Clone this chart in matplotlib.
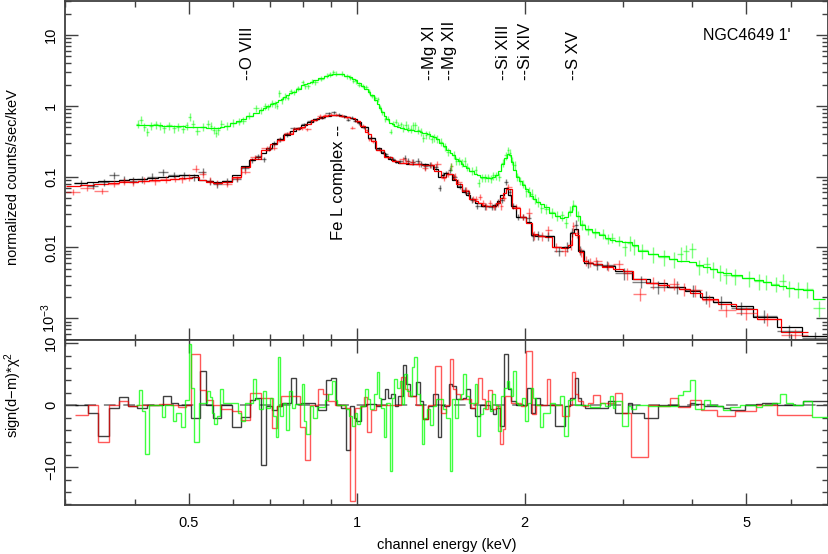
import numpy as np
import matplotlib
matplotlib.use("Agg")
import matplotlib.pyplot as plt
from matplotlib.ticker import FixedLocator, NullFormatter, LogLocator

plt.rcParams["font.family"] = ["Liberation Sans", "DejaVu Sans"]
plt.rcParams["mathtext.fontset"] = "custom"
plt.rcParams["mathtext.rm"] = "Liberation Sans"
plt.rcParams["mathtext.it"] = "Liberation Sans:italic"
plt.rcParams["font.size"] = 10.5

# ---- spectrum: black (MOS1) ----
e_black = [0.320, 0.337, 0.352, 0.368, 0.383, 0.397, 0.412, 0.430, 0.450, 0.470,
           0.490, 0.510, 0.530, 0.545, 0.562, 0.585, 0.610, 0.632, 0.650, 0.665,
           0.681, 0.697, 0.712, 0.728, 0.750, 0.772, 0.788, 0.804, 0.826, 0.846,
           0.866, 0.891, 0.909, 0.928, 0.948, 0.965, 0.980, 0.993, 1.009, 1.030,
           1.063, 1.096, 1.115, 1.130, 1.146, 1.162, 1.178, 1.198, 1.220, 1.236,
           1.262, 1.288, 1.306, 1.328, 1.356, 1.385, 1.409, 1.426, 1.448, 1.471,
           1.495, 1.530, 1.563, 1.582, 1.612, 1.646, 1.698, 1.745, 1.768, 1.795,
           1.825, 1.855, 1.880, 1.910, 1.945, 1.990, 2.035, 2.070, 2.110, 2.200,
           2.310, 2.385, 2.435, 2.475, 2.510, 2.600, 2.700, 2.810, 3.010, 3.240,
           3.470, 3.750, 4.010, 4.230, 4.500, 4.890, 5.380, 5.970, 6.640]
m_black = [0.082, 0.084, 0.086, 0.088, 0.090, 0.092, 0.094, 0.096, 0.099, 0.102,
           0.105, 0.107, 0.090, 0.086, 0.085, 0.086, 0.105, 0.140, 0.170, 0.190,
           0.215, 0.250, 0.300, 0.340, 0.390, 0.440, 0.480, 0.540, 0.600, 0.650,
           0.690, 0.730, 0.750, 0.745, 0.720, 0.700, 0.680, 0.650, 0.600, 0.500,
           0.350, 0.250, 0.215, 0.195, 0.180, 0.170, 0.163, 0.158, 0.155, 0.153,
           0.151, 0.150, 0.150, 0.149, 0.146, 0.128, 0.100, 0.104, 0.112, 0.108,
           0.090, 0.072, 0.060, 0.055, 0.048, 0.042, 0.038, 0.038, 0.040, 0.045,
           0.055, 0.070, 0.055, 0.038, 0.027, 0.027, 0.023, 0.0150, 0.0144, 0.0144,
           0.0101, 0.0103, 0.0160, 0.0180, 0.0088, 0.0061, 0.0058, 0.0054, 0.0047, 0.0036,
           0.0032, 0.0028, 0.0024, 0.0020, 0.0017, 0.0015, 0.00103, 0.00075, 0.00056]
d_black = [0.082, 0.075, 0.083, 0.105, 0.091, 0.088, 0.092, 0.100, 0.115, 0.106,
           0.105, 0.098, 0.118, 0.086, 0.078, 0.086, 0.092, 0.132, 0.172, 0.196,
           0.175, 0.248, 0.292, 0.338, 0.395, 0.480, 0.484, 0.545, 0.606, 0.648,
           0.682, 0.790, 0.810, 0.745, 0.712, 0.640, 0.676, 0.620, 0.565, 0.498,
           0.352, 0.249, 0.220, 0.208, 0.186, 0.180, 0.162, 0.165, 0.185, 0.168,
           0.160, 0.165, 0.152, 0.140, 0.146, 0.136, 0.070, 0.105, 0.111, 0.125,
           0.100, 0.075, 0.064, 0.059, 0.047, 0.039, 0.038, 0.037, 0.038, 0.044,
           0.047, 0.085, 0.060, 0.039, 0.027, 0.027, 0.026, 0.0145, 0.0150, 0.0144,
           0.0088, 0.0103, 0.0165, 0.0210, 0.0092, 0.0060, 0.0057, 0.0056, 0.0043, 0.0033,
           0.0028, 0.0028, 0.0025, 0.0020, 0.0017, 0.0014, 0.00108, 0.00066, 0.00053]

# ---- spectrum: red (MOS2) ----
e_red = [0.310, 0.328, 0.350, 0.368, 0.383, 0.397, 0.415, 0.435, 0.455, 0.472,
         0.487, 0.500, 0.515, 0.530, 0.545, 0.562, 0.585, 0.610, 0.632, 0.658,
         0.690, 0.711, 0.726, 0.755, 0.785, 0.799, 0.816, 0.838, 0.861, 0.879,
         0.901, 0.920, 0.940, 0.962, 0.982, 1.003, 1.025, 1.045, 1.052, 1.070,
         1.100, 1.140, 1.170, 1.210, 1.228, 1.255, 1.295, 1.328, 1.360, 1.395,
         1.433, 1.458, 1.479, 1.500, 1.520, 1.570, 1.617, 1.640, 1.663, 1.686,
         1.708, 1.732, 1.762, 1.793, 1.818, 1.837, 1.870, 1.930, 1.990, 2.038,
         2.080, 2.150, 2.205, 2.280, 2.365, 2.418, 2.447, 2.480, 2.525, 2.575,
         2.625, 2.690, 2.820, 2.950, 3.050, 3.220, 3.400, 3.550, 3.700, 3.870,
         4.050, 4.280, 4.600, 5.000, 5.450, 6.100]
m_red = [0.074, 0.076, 0.078, 0.081, 0.083, 0.085, 0.087, 0.089, 0.091, 0.093,
         0.095, 0.097, 0.098, 0.090, 0.084, 0.082, 0.083, 0.100, 0.135, 0.175,
         0.235, 0.290, 0.330, 0.395, 0.465, 0.510, 0.560, 0.630, 0.680, 0.710,
         0.735, 0.740, 0.730, 0.700, 0.665, 0.620, 0.525, 0.430, 0.400, 0.320,
         0.240, 0.188, 0.168, 0.157, 0.155, 0.152, 0.150, 0.148, 0.145, 0.122,
         0.100, 0.110, 0.108, 0.094, 0.080, 0.062, 0.049, 0.045, 0.042, 0.040,
         0.039, 0.038, 0.038, 0.042, 0.050, 0.058, 0.066, 0.036, 0.027, 0.022,
         0.0155, 0.0143, 0.0140, 0.0100, 0.0098, 0.0110, 0.0160, 0.0150, 0.0085, 0.0065,
         0.0061, 0.0058, 0.0053, 0.0049, 0.0046, 0.0036, 0.0032, 0.0030, 0.0028, 0.0026,
         0.0023, 0.0019, 0.0016, 0.00135, 0.00098, 0.00065]
d_red = [0.061, 0.070, 0.063, 0.080, 0.086, 0.084, 0.088, 0.086, 0.092, 0.093,
         0.092, 0.097, 0.130, 0.108, 0.088, 0.082, 0.080, 0.095, 0.118, 0.190,
         0.250, 0.255, 0.330, 0.420, 0.480, 0.480, 0.470, 0.630, 0.720, 0.740,
         0.750, 0.745, 0.730, 0.690, 0.490, 0.610, 0.520, 0.450, 0.340, 0.315,
         0.238, 0.188, 0.168, 0.175, 0.165, 0.160, 0.150, 0.132, 0.145, 0.150,
         0.096, 0.110, 0.140, 0.102, 0.085, 0.064, 0.048, 0.048, 0.052, 0.042,
         0.038, 0.043, 0.037, 0.042, 0.038, 0.050, 0.072, 0.037, 0.027, 0.031,
         0.0148, 0.0143, 0.0175, 0.0100, 0.0090, 0.0110, 0.0200, 0.0160, 0.0086, 0.0065,
         0.0062, 0.0064, 0.0054, 0.0058, 0.0043, 0.0022, 0.0032, 0.0030, 0.0031, 0.0026,
         0.0025, 0.0018, 0.0013, 0.0012, 0.00098, 0.00058]

# ---- spectrum: green (pn) ----
e_green = [0.405, 0.411, 0.416, 0.421, 0.428, 0.436, 0.444, 0.451, 0.461, 0.471,
           0.479, 0.488, 0.496, 0.502, 0.508, 0.517, 0.530, 0.542, 0.548, 0.554,
           0.559, 0.565, 0.572, 0.585, 0.600, 0.616, 0.626, 0.642, 0.660, 0.674,
           0.684, 0.693, 0.704, 0.713, 0.720, 0.727, 0.734, 0.743, 0.752, 0.762,
           0.771, 0.786, 0.801, 0.809, 0.819, 0.831, 0.842, 0.863, 0.884, 0.896,
           0.908, 0.919, 0.940, 0.962, 0.973, 0.987, 0.998, 1.009, 1.025, 1.041,
           1.052, 1.065, 1.080, 1.091, 1.100, 1.112, 1.124, 1.138, 1.152, 1.162,
           1.175, 1.188, 1.200, 1.212, 1.224, 1.237, 1.250, 1.262, 1.275, 1.289,
           1.304, 1.317, 1.330, 1.346, 1.363, 1.378, 1.395, 1.416, 1.438, 1.458,
           1.477, 1.492, 1.510, 1.528, 1.545, 1.562, 1.578, 1.608, 1.636, 1.656,
           1.676, 1.696, 1.720, 1.742, 1.759, 1.778, 1.802, 1.828, 1.849, 1.866,
           1.883, 1.901, 1.919, 1.939, 1.963, 1.989, 2.013, 2.037, 2.062, 2.088,
           2.114, 2.141, 2.188, 2.244, 2.290, 2.332, 2.370, 2.410, 2.447, 2.490,
           2.540, 2.600, 2.675, 2.760, 2.817, 2.865, 2.950, 3.025, 3.085, 3.140,
           3.250, 3.400, 3.550, 3.700, 3.810, 3.900, 4.000, 4.110, 4.240, 4.360,
           4.480, 4.600, 4.770, 5.050, 5.260, 5.430, 5.640, 5.810, 5.970, 6.180,
           6.430, 6.750]
m_green = [0.540, 0.538, 0.536, 0.535, 0.533, 0.531, 0.529, 0.527, 0.524, 0.521,
           0.518, 0.514, 0.510, 0.508, 0.505, 0.501, 0.496, 0.492, 0.490, 0.489,
           0.488, 0.488, 0.495, 0.520, 0.570, 0.620, 0.660, 0.720, 0.800, 0.870,
           0.920, 0.980, 1.050, 1.100, 1.150, 1.200, 1.260, 1.330, 1.420, 1.500,
           1.580, 1.750, 1.950, 2.020, 2.100, 2.200, 2.280, 2.450, 2.620, 2.700,
           2.780, 2.820, 2.850, 2.680, 2.580, 2.420, 2.280, 2.120, 1.920, 1.720,
           1.580, 1.400, 1.200, 1.050, 0.930, 0.820, 0.730, 0.650, 0.580, 0.550,
           0.520, 0.500, 0.490, 0.480, 0.470, 0.460, 0.455, 0.450, 0.445, 0.440,
           0.430, 0.420, 0.410, 0.400, 0.380, 0.360, 0.335, 0.300, 0.270, 0.240,
           0.215, 0.200, 0.180, 0.165, 0.150, 0.140, 0.132, 0.120, 0.110, 0.104,
           0.100, 0.098, 0.096, 0.096, 0.098, 0.104, 0.120, 0.150, 0.185, 0.210,
           0.200, 0.160, 0.125, 0.100, 0.087, 0.076, 0.068, 0.060, 0.053, 0.048,
           0.044, 0.041, 0.037, 0.031, 0.028, 0.0265, 0.0270, 0.0320, 0.0380, 0.0280,
           0.0210, 0.0180, 0.0165, 0.0150, 0.0135, 0.0128, 0.0122, 0.0120, 0.0118, 0.0110,
           0.0090, 0.0082, 0.0075, 0.0068, 0.0065, 0.0064, 0.0063, 0.0056, 0.0053, 0.0050,
           0.0045, 0.0043, 0.0041, 0.0037, 0.0035, 0.0033, 0.0030, 0.0029, 0.0027, 0.0026,
           0.0025, 0.0019]
d_green = [0.560, 0.630, 0.500, 0.430, 0.520, 0.545, 0.520, 0.480, 0.530, 0.480,
           0.500, 0.470, 0.530, 0.700, 0.560, 0.440, 0.505, 0.560, 0.520, 0.460,
           0.420, 0.450, 0.550, 0.525, 0.575, 0.600, 0.620, 0.730, 0.920, 0.860,
           0.990, 0.970, 1.080, 1.050, 1.000, 1.500, 1.200, 1.350, 1.300, 1.600,
           1.560, 1.770, 2.150, 1.900, 1.880, 2.190, 2.150, 2.430, 2.680, 2.780,
           3.000, 2.860, 2.850, 2.640, 2.500, 2.270, 2.220, 1.980, 1.910, 1.850,
           1.610, 1.380, 1.280, 1.250, 0.960, 0.810, 0.650, 0.660, 0.430, 0.560,
           0.600, 0.540, 0.550, 0.485, 0.540, 0.490, 0.475, 0.530, 0.530, 0.460,
           0.435, 0.350, 0.390, 0.395, 0.345, 0.358, 0.345, 0.310, 0.265, 0.225,
           0.140, 0.205, 0.167, 0.170, 0.158, 0.165, 0.136, 0.122, 0.125, 0.082,
           0.096, 0.097, 0.098, 0.093, 0.104, 0.104, 0.100, 0.158, 0.200, 0.235,
           0.215, 0.168, 0.145, 0.101, 0.087, 0.079, 0.062, 0.061, 0.057, 0.049,
           0.044, 0.036, 0.035, 0.0315, 0.0282, 0.0285, 0.0225, 0.0330, 0.0400, 0.0280,
           0.0212, 0.0178, 0.0162, 0.0155, 0.0133, 0.0138, 0.0125, 0.0100, 0.0117, 0.0105,
           0.0091, 0.0081, 0.0074, 0.0068, 0.0082, 0.0088, 0.0094, 0.0054, 0.0058, 0.0050,
           0.0045, 0.0041, 0.0040, 0.0037, 0.0034, 0.0033, 0.0031, 0.0034, 0.0027, 0.0026,
           0.0026, 0.0014]

# relative 1-sigma error per energy band
err_band_edges = [0.3, 0.6, 0.75, 1.2, 2.0, 3.0, 7.1]
err_frac_mos = [0.11, 0.08, 0.05, 0.10, 0.15, 0.20]
err_frac_pn = [0.13, 0.11, 0.08, 0.13, 0.16, 0.25]

# ---- residuals sign(d-m)*chi^2 (bin upper edges + values) ----
res_black_lo = 0.313
res_black_hi = [0.330, 0.344, 0.360, 0.375, 0.389, 0.404, 0.420, 0.450, 0.465, 0.478,
                0.505, 0.523, 0.538, 0.552, 0.572, 0.598, 0.621, 0.643, 0.656, 0.673,
                0.689, 0.706, 0.719, 0.736, 0.764, 0.780, 0.796, 0.812, 0.841, 0.852,
                0.882, 0.901, 0.917, 0.939, 0.958, 0.972, 0.988, 0.999, 1.019, 1.041,
                1.085, 1.107, 1.123, 1.138, 1.154, 1.170, 1.186, 1.211, 1.228, 1.245,
                1.279, 1.297, 1.315, 1.342, 1.370, 1.399, 1.418, 1.434, 1.462, 1.480,
                1.510, 1.550, 1.570, 1.595, 1.630, 1.663, 1.733, 1.756, 1.780, 1.810,
                1.840, 1.870, 1.890, 1.930, 1.960, 2.020, 2.050, 2.090, 2.130, 2.270,
                2.360, 2.410, 2.460, 2.490, 2.530, 2.570, 2.670, 2.730, 2.820, 2.910,
                3.070, 3.120, 3.280, 3.470, 3.640, 3.770, 3.960, 4.040, 4.190, 4.300,
                4.540, 4.670, 4.970, 5.210, 5.320, 5.660, 6.060, 6.310, 7.000]
res_black = [0.0, -1.2, -4.9, -0.4, 1.3, -0.2, -0.5, 0.0, 1.5, 0.4,
             0.0, -2.0, 5.5, 0.0, -2.1, 0.0, -3.5, -1.9, 0.9, 1.1,
             -9.6, -0.2, -0.8, -0.1, 0.4, 4.4, 0.2, 0.4, 0.4, -0.2,
             -0.8, 4.0, 4.4, 0.0, -0.4, -7.3, -0.1, -2.0, -2.5, -0.1,
             0.2, -0.1, 1.0, 2.6, 1.2, 1.8, -0.1, 1.5, 6.5, 3.4,
             1.5, 3.7, 0.7, -2.2, -0.1, 1.8, -5.2, 0.1, -0.1, 3.4,
             3.1, 1.0, 1.2, 2.6, -0.4, -1.7, 0.1, -0.6, -1.4, -0.4,
             -3.3, 8.2, 2.6, 0.7, 0.1, 0.0, 2.8, -1.2, 1.1, 0.0,
             -3.3, -0.1, 1.1, 4.4, 1.1, 0.0, -0.4, -0.5, -0.4, 0.7,
             -1.3, 0.3, -1.2, -2.1, 0.1, 0.0, -0.1, 0.3, 0.2, -0.1,
             -0.1, -0.5, -0.8, 0.0, 0.2, 0.3, 0.0, 0.0, 0.7]

res_red_lo = 0.313
res_red_hi = [0.330, 0.344, 0.360, 0.375, 0.389, 0.404, 0.443, 0.465, 0.478, 0.495,
              0.505, 0.523, 0.538, 0.552, 0.572, 0.598, 0.621, 0.643, 0.673, 0.704,
              0.719, 0.733, 0.791, 0.807, 0.825, 0.852, 0.870, 0.888, 0.913, 0.952,
              0.972, 0.992, 1.019, 1.032, 1.045, 1.059, 1.085, 1.200, 1.220, 1.236,
              1.279, 1.315, 1.342, 1.380, 1.418, 1.448, 1.469, 1.489, 1.510, 1.531,
              1.606, 1.629, 1.652, 1.675, 1.697, 1.720, 1.745, 1.780, 1.806, 1.830,
              1.844, 1.895, 1.970, 2.016, 2.060, 2.100, 2.190, 2.220, 2.330, 2.400,
              2.430, 2.463, 2.497, 2.550, 2.600, 2.650, 2.730, 2.906, 2.990, 3.110,
              3.330, 3.470, 3.640, 3.770, 3.960, 4.150, 4.420, 4.770, 5.210, 5.660,
              6.560]
res_red = [-1.6, 0.0, -5.9, 0.0, 0.7, -0.2, 0.0, 0.2, 0.0, -0.3,
           0.0, 8.3, 2.4, 0.8, 0.0, -0.6, -0.9, -2.4, 1.9, 1.1,
           -3.7, -0.2, 1.5, -3.5, -8.8, 0.0, 2.6, 1.8, 0.7, 0.0,
           -0.4, -15.4, -0.4, -0.1, 1.3, -4.3, -0.8, 0.0, 4.5, 2.6,
           1.5, 0.1, -2.2, 0.1, 6.3, -1.2, 0.0, 7.4, 2.6, 1.8,
           1.0, -0.4, 0.4, 4.4, 1.0, -0.6, 2.4, -0.6, -0.1, -6.3,
           -3.9, 1.4, 0.3, -0.1, 8.8, -1.4, 0.0, 4.2, 0.0, -1.7,
           0.0, 5.3, 1.8, 0.7, -0.1, 0.4, 1.6, 0.3, 2.0, -1.3,
           -8.4, 0.0, -0.1, 1.1, -0.3, 0.9, -0.8, -1.7, -1.0, 0.0,
           -1.55]

res_green_lo = 0.403
res_green_hi = [0.408, 0.413, 0.417, 0.424, 0.448, 0.454, 0.468, 0.474, 0.484, 0.492,
                0.500, 0.505, 0.512, 0.522, 0.539, 0.545, 0.551, 0.556, 0.562, 0.568,
                0.576, 0.612, 0.621, 0.630, 0.652, 0.659, 0.668, 0.680, 0.687, 0.699,
                0.709, 0.717, 0.723, 0.730, 0.738, 0.748, 0.757, 0.767, 0.775, 0.797,
                0.805, 0.813, 0.825, 0.836, 0.848, 0.878, 0.890, 0.902, 0.915, 0.923,
                0.958, 0.967, 0.980, 0.994, 1.003, 1.015, 1.036, 1.046, 1.058, 1.073,
                1.088, 1.095, 1.106, 1.118, 1.130, 1.146, 1.157, 1.168, 1.181, 1.194,
                1.206, 1.217, 1.230, 1.244, 1.256, 1.268, 1.281, 1.297, 1.310, 1.323,
                1.337, 1.356, 1.371, 1.385, 1.404, 1.428, 1.448, 1.469, 1.485, 1.499,
                1.520, 1.537, 1.553, 1.570, 1.587, 1.629, 1.644, 1.667, 1.685, 1.708,
                1.733, 1.751, 1.767, 1.790, 1.815, 1.840, 1.858, 1.874, 1.892, 1.910,
                1.928, 1.950, 1.976, 2.002, 2.025, 2.050, 2.075, 2.101, 2.128, 2.155,
                2.221, 2.267, 2.314, 2.350, 2.390, 2.430, 2.463, 2.620, 2.730, 2.788,
                2.847, 2.880, 2.906, 2.990, 3.060, 3.110, 3.170, 3.330, 3.770, 3.850,
                3.960, 4.040, 4.190, 4.300, 4.420, 4.540, 4.670, 4.870, 5.210, 5.320,
                5.550, 5.740, 5.880, 6.060, 6.310, 6.560, 7.000]
res_green = [0.0, 2.4, -1.0, -7.9, 0.0, -1.9, 0.0, -2.6, -1.3, -3.5,
             0.8, 9.9, 2.8, -5.9, 0.4, 2.3, 1.3, -1.2, -3.1, -1.7,
             2.6, 0.3, -1.2, -2.5, 0.3, 4.2, 1.0, -0.6, 2.3, -0.4,
             1.2, -1.7, -5.2, 7.8, -1.7, 0.4, -4.0, 2.3, -0.4, 0.2,
             3.4, -2.5, -4.7, -0.1, -2.0, -0.3, 0.8, 1.8, 3.9, 0.8,
             0.0, -0.6, -1.7, -3.3, -1.2, -3.0, -0.1, 2.6, 1.0, -0.6,
             1.8, 5.3, 1.2, -0.4, -5.2, 0.4, -10.6, 1.2, 4.2, 2.8,
             3.9, 0.2, 5.0, 2.3, 1.5, 6.1, 7.7, 1.8, 0.2, -6.2,
             -2.0, -0.6, -3.2, -0.1, 1.0, 1.0, -0.6, -2.0, -10.6, 1.0,
             -2.0, 1.0, 1.8, 5.0, 1.5, 0.3, 3.4, -4.9, -1.5, -0.4,
             0.7, -0.9, 1.8, 0.1, -4.1, 1.5, 2.8, 3.9, 2.8, 1.5,
             5.5, 0.4, 0.1, 1.2, -2.5, 0.3, 2.8, 1.1, 0.0, -3.5,
             -1.2, 0.4, 0.1, 1.5, -4.9, 0.8, 1.0, 0.0, -0.3, 0.4,
             -0.1, 1.4, -0.4, 0.7, -3.3, -0.1, -0.6, 0.1, -0.1, 1.7,
             2.2, 4.1, -0.6, 0.9, 0.1, -0.1, -0.8, -0.3, 0.0, -0.3,
             0.1, 0.4, 1.8, 0.3, 0.0, 0.6, -1.9]

# line identifications
line_names = ["--O VIII", "--Mg XI", "--Mg XII", "--Si XIII", "--Si XIV", "--S XV"]
line_energies = [0.636, 1.352, 1.468, 1.834, 2.005, 2.449]

BLACK = "#000000"
RED = "#ff0000"
GREEN = "#00ff00"
FRAME = "#404040"


def bin_edges(c):
    c = np.asarray(c, float)
    mid = np.sqrt(c[1:] * c[:-1])
    return np.concatenate([[c[0] ** 2 / mid[0]], mid, [c[-1] ** 2 / mid[-1]]])


def draw_spectrum(ax, e, model, data, fracs, color):
    e = np.asarray(e, float)
    data = np.asarray(data, float)
    edges = bin_edges(e)
    idx = np.clip(np.searchsorted(err_band_edges, e) - 1, 0, len(fracs) - 1)
    yerr = np.asarray(fracs)[idx] * data
    ax.errorbar(e, data, xerr=[e - edges[:-1], edges[1:] - e], yerr=yerr,
                fmt="none", ecolor=color, elinewidth=1.0, alpha=0.5, capsize=0)
    ax.stairs(model, edges, color=color, lw=0.9, baseline=None)


def style_axis(ax):
    for s in ax.spines.values():
        s.set_color(FRAME)
        s.set_linewidth(1.3)
    ax.tick_params(which="both", direction="in", top=True, right=True,
                   color=FRAME, width=1.0)
    ax.tick_params(which="major", length=9)
    ax.tick_params(which="minor", length=4.5)
    ax.tick_params(axis="x", pad=8)
    ax.tick_params(axis="y", labelrotation=90, pad=5)


W, H = 829, 554
fig = plt.figure(figsize=(W / 100, H / 100), dpi=100)
ax1 = fig.add_axes([65 / W, 1 - 340 / H, 763 / W, 339 / H])
ax2 = fig.add_axes([65 / W, 1 - 505 / H, 763 / W, 165 / H])

# top panel
draw_spectrum(ax1, e_black, m_black, d_black, err_frac_mos, BLACK)
draw_spectrum(ax1, e_red, m_red, d_red, err_frac_mos, RED)
draw_spectrum(ax1, e_green, m_green, d_green, err_frac_pn, GREEN)

ax1.set_xscale("log")
ax1.set_yscale("log")
ax1.set_xlim(0.3, 7.0)
ax1.set_ylim(4.94e-4, 30.2)

for name, en in zip(line_names, line_energies):
    ax1.text(en, 2.33, name, rotation=90, ha="center", va="bottom", fontsize=12)
ax1.text(0.928, 0.54, "Fe L complex --", rotation=90, ha="center", va="top", fontsize=12)
ax1.text(0.893, 0.898, "NGC4649 1'", transform=ax1.transAxes, ha="center",
         va="center", fontsize=11.5)

# residual panel
ax2.axhline(0, color="#909090", lw=1.4, ls=(0, (6, 4)), zorder=1)
ax2.stairs(res_black, [res_black_lo] + res_black_hi, color=BLACK, lw=1.0,
           alpha=0.75, baseline=None, zorder=3)
ax2.stairs(res_red, [res_red_lo] + res_red_hi, color=RED, lw=1.0,
           alpha=0.65, baseline=None, zorder=3)
ax2.stairs(res_green, [res_green_lo] + res_green_hi, color=GREEN, lw=1.0,
           alpha=0.75, baseline=None, zorder=3)
ax2.set_xscale("log")
ax2.set_xlim(0.3, 7.0)
ax2.set_ylim(-16.1, 10.5)

xmaj = [0.5, 1, 2, 5]
xmin = [0.3, 0.4, 0.6, 0.7, 0.8, 0.9, 3, 4, 6, 7]
for ax in (ax1, ax2):
    ax.xaxis.set_major_locator(FixedLocator(xmaj))
    ax.xaxis.set_minor_locator(FixedLocator(xmin))
    ax.xaxis.set_minor_formatter(NullFormatter())
    style_axis(ax)

ax1.set_xticklabels([])
ax1.yaxis.set_major_locator(FixedLocator([1e-3, 1e-2, 0.1, 1, 10]))
ax1.set_yticklabels(["$10^{-3}$", "0.01", "0.1", "1", "10"])
ax1.yaxis.set_minor_locator(LogLocator(base=10, subs=np.arange(2, 10) * 1.0, numticks=20))
ax1.yaxis.set_minor_formatter(NullFormatter())

ax2.set_xticklabels(["0.5", "1", "2", "5"])
ax2.yaxis.set_major_locator(FixedLocator([-10, 0, 10]))
ax2.set_yticklabels(["\u221210", "0", "10"])
ax2.yaxis.set_minor_locator(FixedLocator([-16, -14, -12, -8, -6, -4, -2, 2, 4, 6, 8]))

for ax in (ax1, ax2):
    for lbl in ax.get_yticklabels():
        lbl.set_va("center")

fig.text(13 / W, 1 - 177 / H, "normalized counts/sec/keV", rotation=90,
         ha="center", va="center", fontsize=10.5)
fig.text(13 / W, 1 - 395 / H, "sign(d\u2212m)*\u03c7$^2$", rotation=90,
         ha="center", va="center", fontsize=10.5)
fig.text(447 / W, 1 - 545 / H, "channel energy (keV)", ha="center",
         va="center", fontsize=10.5)

fig.savefig("out.png", dpi=100)
